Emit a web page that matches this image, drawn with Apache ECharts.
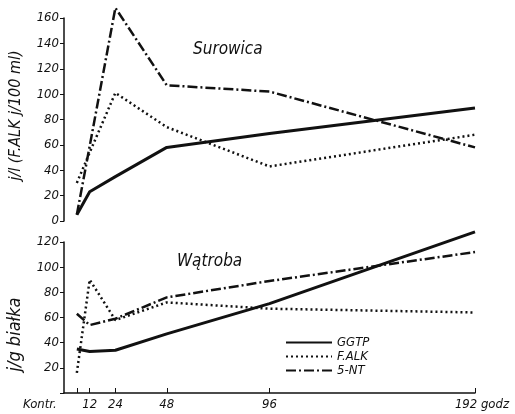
<!DOCTYPE html>
<html>
<head>
<meta charset="utf-8">
<script src="https://cdn.jsdelivr.net/npm/echarts@6/dist/echarts.min.js"></script>
<style>
  html, body { margin: 0; padding: 0; background: #fff; }
  #chart { width: 515px; height: 414px; }
</style>
</head>
<body>
<div id="chart"></div>
<script>
// godziny (Kontr. = punkt kontrolny)
const hours = [6, 12, 24, 48, 96, 192];
const hourLabels = { 6: 'Kontr.', 12: '12', 24: '24', 48: '48', 96: '96', 192: '192 godz' };

// Surowica (j/l)
const serumGGTP = [5, 23, 35, 58, 69, 89];
const serumFALK = [30, 54, 101, 74, 43, 68];
const serum5NT = [5, 59, 168, 107, 102, 58];

// Wątroba (j/g białka)
const liverGGTP = [35, 33, 34, 47, 71, 128];
const liverFALK = [16, 90, 58, 72, 67, 64];
const liver5NT = [63, 54, 59, 76, 89, 112];

const INK = '#111';
const FONT = '"DejaVu Sans Condensed", "DejaVu Sans", sans-serif';

const styles = {
  GGTP: { type: 'solid', width: 3 },
  'F.ALK': { type: [2, 3], width: 2.5 },
  '5-NT': { type: [10, 3, 2, 3], width: 2.5 }
};

function pairs(vals) {
  return hours.map((h, i) => [h, vals[i]]);
}

function mkSeries(name, vals, idx) {
  return {
    name: name,
    type: 'line',
    xAxisIndex: idx,
    yAxisIndex: idx,
    data: pairs(vals),
    symbol: 'none',
    clip: false,
    lineStyle: Object.assign({ color: INK }, styles[name]),
    itemStyle: { color: INK }
  };
}

const chart = echarts.init(document.getElementById('chart'));

const axisText = { color: INK, fontFamily: FONT, fontStyle: 'italic', fontSize: 13 };
const titleText = { color: INK, fontFamily: FONT, fontStyle: 'italic', fontWeight: 'normal', fontSize: 17 };

chart.setOption({
  animation: false,
  backgroundColor: '#fff',
  title: [
    { text: 'Surowica', left: 188, top: 36, textStyle: titleText },
    { text: 'Wątroba', left: 172, top: 248, textStyle: titleText }
  ],
  legend: {
    data: ['GGTP', 'F.ALK', '5-NT'],
    orient: 'vertical',
    left: 280,
    top: 331,
    itemWidth: 46,
    itemHeight: 10,
    itemGap: 1,
    itemStyle: { opacity: 0 },
    textStyle: axisText
  },
  grid: [
    { left: 64, right: 40, top: 18, bottom: 193, outerBoundsMode: 'none' },
    { left: 64, right: 40, top: 242, bottom: 21, outerBoundsMode: 'none' }
  ],
  xAxis: [
    { gridIndex: 0, type: 'value', min: 0, max: 192, show: false },
    {
      gridIndex: 1, type: 'value', min: 0, max: 192, interval: 6,
      splitLine: { show: false },
      axisLine: { lineStyle: { color: INK, width: 1.5 } },
      axisTick: { inside: true, length: 5, lineStyle: { color: INK }, customValues: hours },
      axisLabel: Object.assign({}, axisText, {
        customValues: hours,
        margin: 5,
        formatter: v => {
          if (v === 6) return '{k|Kontr.}';
          if (v === 192) return '{g|192 godz}';
          return hourLabels[v] || '';
        },
        rich: {
          k: Object.assign({}, axisText, { padding: [0, 74, 0, 0] }),
          g: Object.assign({}, axisText, { padding: [0, 0, 0, 14] })
        }
      })
    }
  ],
  yAxis: [
    {
      gridIndex: 0, type: 'value', min: 0, max: 160, interval: 20,
      name: 'j/l (F.ALK j/100 ml)',
      nameLocation: 'middle',
      nameGap: 40,
      nameTextStyle: Object.assign({}, axisText, { fontSize: 16, padding: [0, 0, 0, 8] }),
      splitLine: { show: false },
      axisLine: { show: true, lineStyle: { color: INK, width: 1.5 } },
      axisTick: { show: true, length: 4, lineStyle: { color: INK } },
      axisLabel: Object.assign({}, axisText, { margin: 5 })
    },
    {
      gridIndex: 1, type: 'value', min: 0, max: 120, interval: 20,
      name: 'j/g białka',
      nameLocation: 'middle',
      nameGap: 40,
      nameTextStyle: Object.assign({}, axisText, { fontSize: 18, padding: [0, 34, 0, 0] }),
      splitLine: { show: false },
      axisLine: { show: true, lineStyle: { color: INK, width: 1.5 } },
      axisTick: { show: true, length: 4, lineStyle: { color: INK } },
      axisLabel: Object.assign({}, axisText, { margin: 5, formatter: v => (v === 0 ? '' : String(v)) })
    }
  ],
  series: [
    mkSeries('GGTP', serumGGTP, 0),
    mkSeries('F.ALK', serumFALK, 0),
    mkSeries('5-NT', serum5NT, 0),
    mkSeries('GGTP', liverGGTP, 1),
    mkSeries('F.ALK', liverFALK, 1),
    mkSeries('5-NT', liver5NT, 1)
  ]
});
</script>
</body>
</html>
